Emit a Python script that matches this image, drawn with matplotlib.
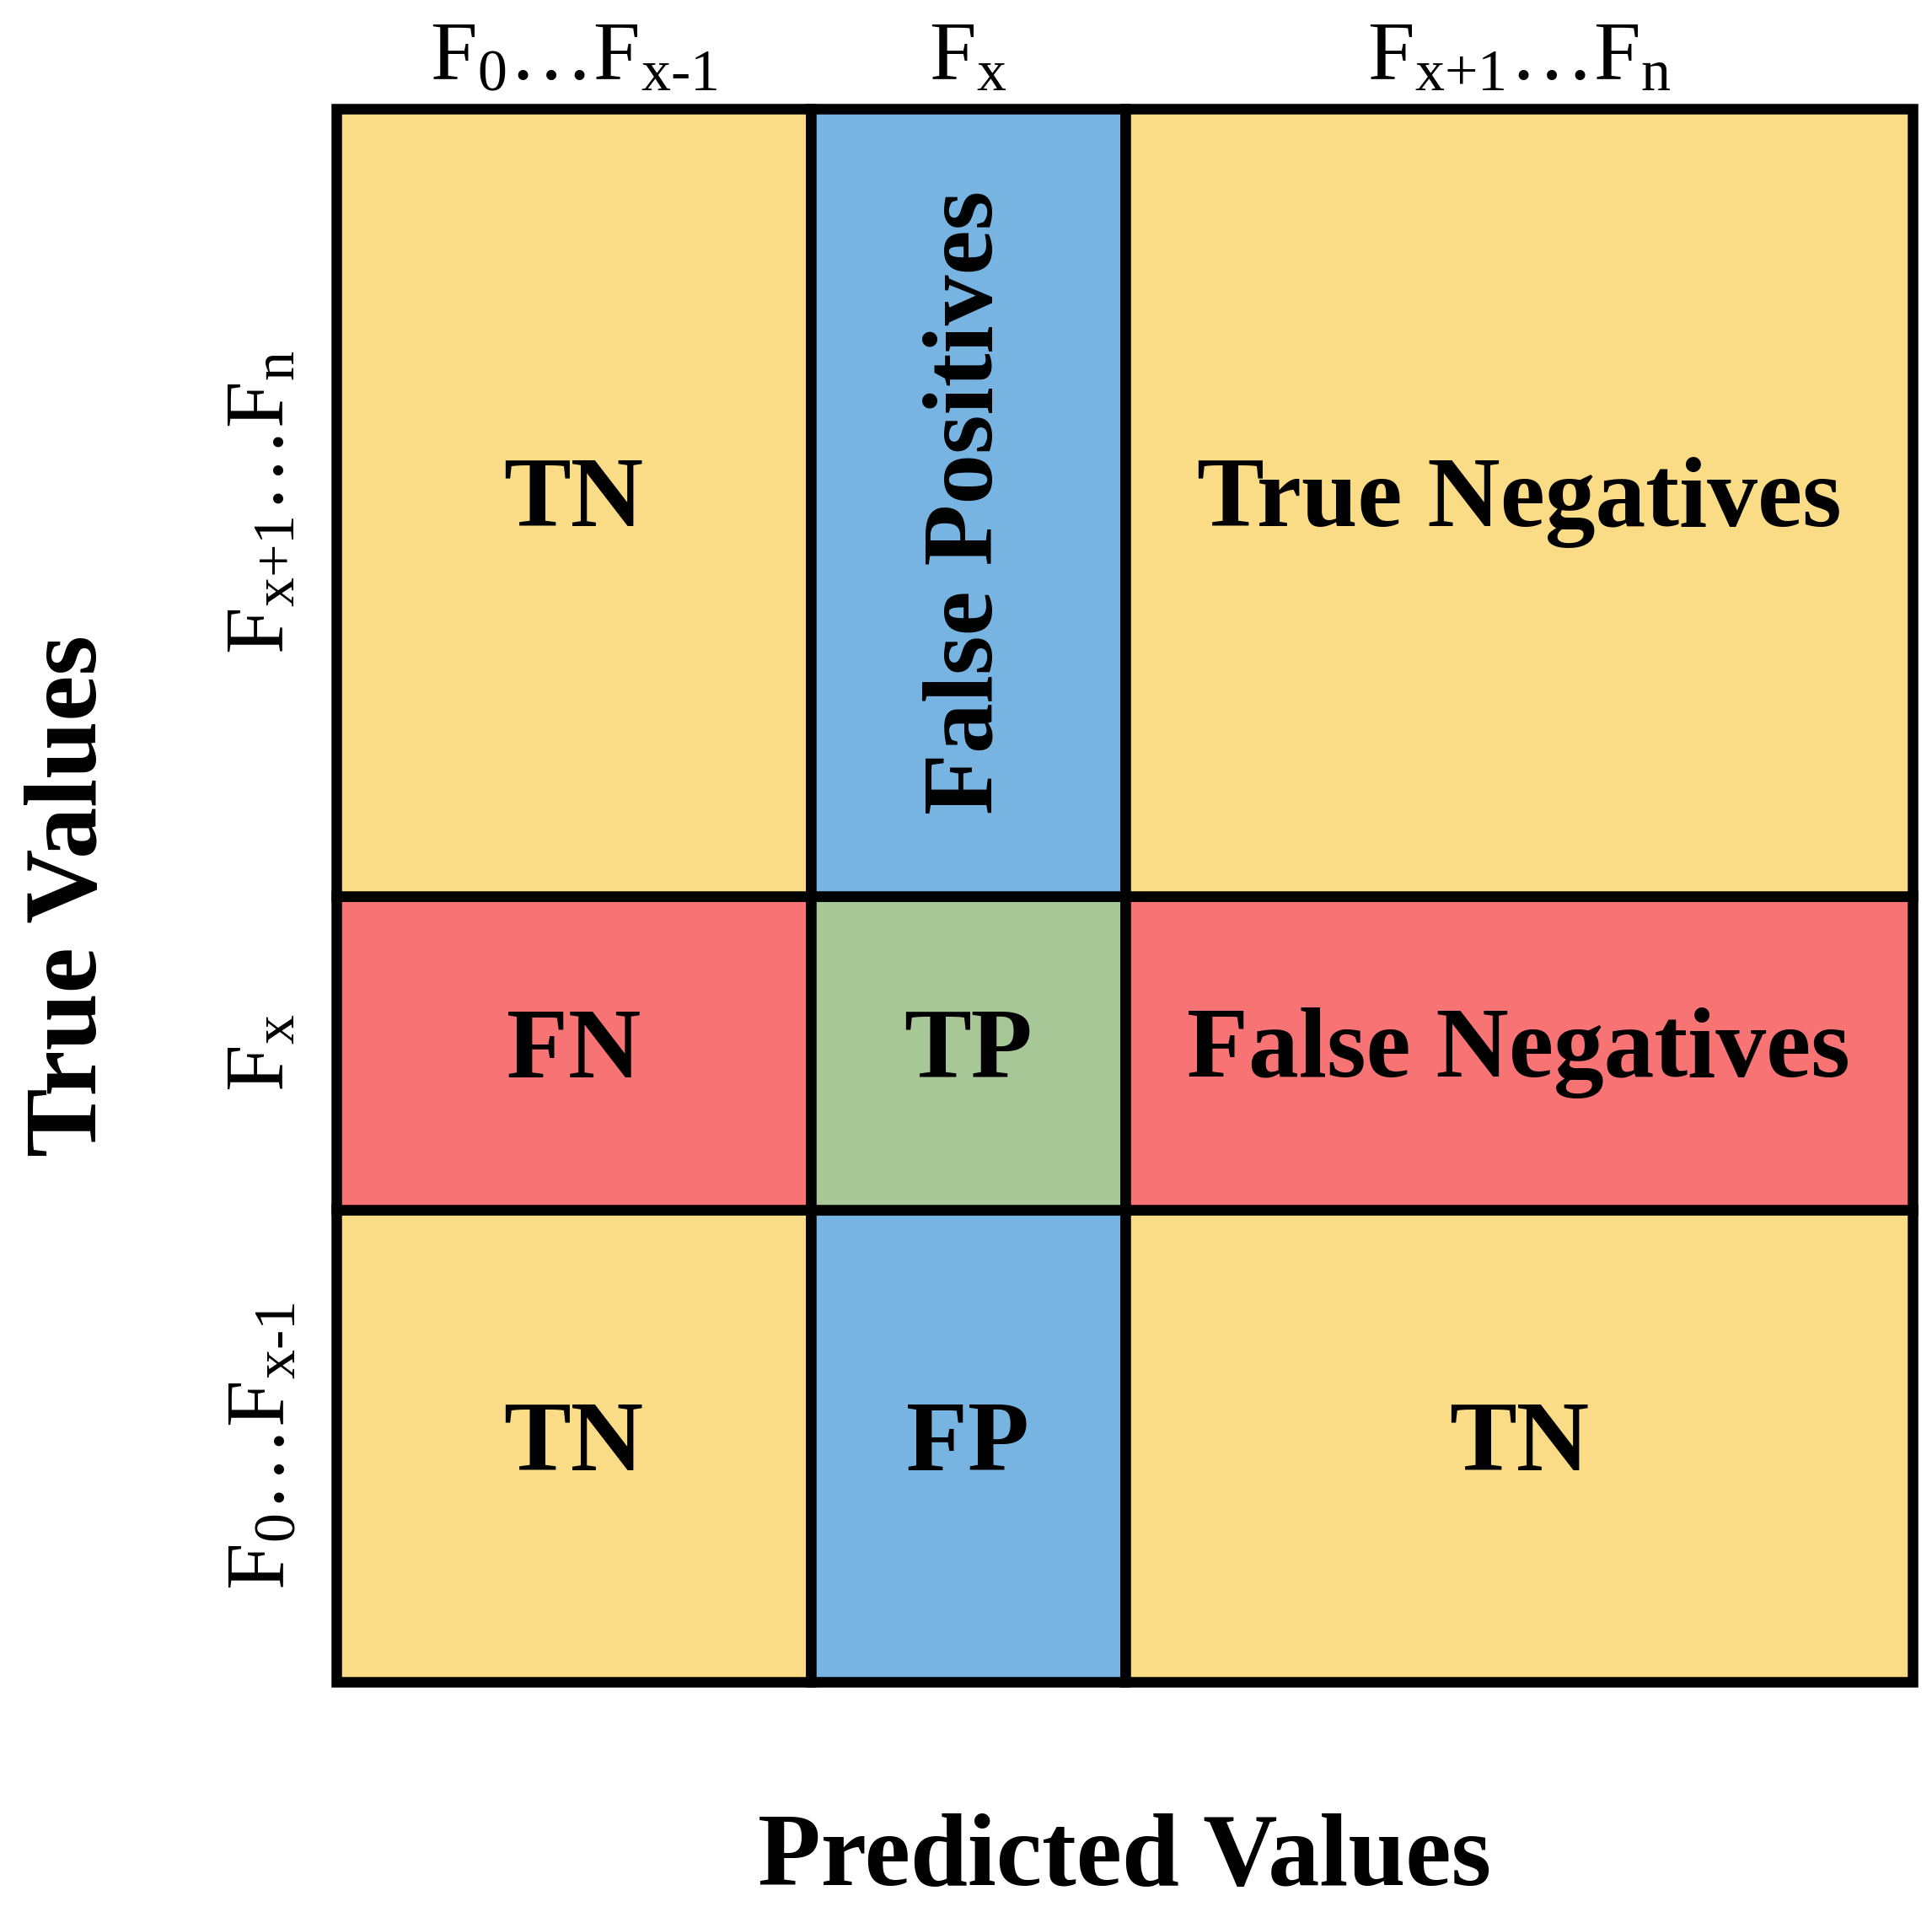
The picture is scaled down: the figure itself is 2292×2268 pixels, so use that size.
import numpy as np
import matplotlib.pyplot as plt
from matplotlib.patches import Rectangle

plt.rcParams['font.family'] = ['Liberation Serif', 'DejaVu Serif']
plt.rcParams['mathtext.fontset'] = 'custom'
plt.rcParams['mathtext.rm'] = 'Liberation Serif'
plt.rcParams['mathtext.it'] = 'Liberation Serif'

# 列宽 / 行高（相对单位，从左到右、从下到上）
col_widths = [385, 255, 639]
row_heights = [383, 255, 639]
col_labels = [r'F$_{\text{0}}$…F$_{\text{x-1}}$', r'F$_{\text{x}}$', r'F$_{\text{x+1}}$…F$_{\text{n}}$']
row_labels = [r'F$_{\text{0}}$…F$_{\text{x-1}}$', r'F$_{\text{x}}$', r'F$_{\text{x+1}}$…F$_{\text{n}}$']

# 单元格类别（行从下到上）
cell_kind = [['TN', 'FP', 'TN'],
             ['FN', 'TP', 'FN'],
             ['TN', 'FP', 'TN']]
cell_text = [['TN', 'FP', 'TN'],
             ['FN', 'TP', 'False Negatives'],
             ['TN', 'False Positives', 'True Negatives']]
colors = {'TN': '#FADC86', 'FP': '#77B4E1', 'FN': '#F87474', 'TP': '#A8C797'}

fig = plt.figure(figsize=(22.92, 22.68), dpi=100)
ax = fig.add_axes([399 / 2292, 1 - 1995 / 2268, 1870 / 2292, 1866 / 2268])

x_edges = np.concatenate([[0], np.cumsum(col_widths)])
y_edges = np.concatenate([[0], np.cumsum(row_heights)])

for i in range(3):
    for j in range(3):
        x0, y0 = x_edges[j], y_edges[i]
        w, h = col_widths[j], row_heights[i]
        ax.add_patch(Rectangle((x0, y0), w, h, facecolor=colors[cell_kind[i][j]],
                               edgecolor='black', linewidth=9, clip_on=False))
        rot = 90 if cell_text[i][j] == 'False Positives' else 0
        ax.text(x0 + w / 2, y0 + h / 2, cell_text[i][j], ha='center', va='center',
                fontsize=86, fontweight='bold', rotation=rot)

ax.set_xlim(x_edges[0], x_edges[-1])
ax.set_ylim(y_edges[0], y_edges[-1])
ax.set_xticks((x_edges[:-1] + x_edges[1:]) / 2)
ax.set_xticklabels(col_labels, fontsize=72)
ax.xaxis.tick_top()
ax.set_yticks((y_edges[:-1] + y_edges[1:]) / 2)
ax.set_yticklabels(row_labels, fontsize=72, rotation=90, va='center')
ax.tick_params(length=0, pad=30)
ax.tick_params(axis='x', pad=10)
for s in ax.spines.values():
    s.set_visible(False)

ax.set_xlabel('Predicted Values', fontsize=88, fontweight='bold', labelpad=112)
ax.set_ylabel('True Values', fontsize=88, fontweight='bold', labelpad=92)

fig.savefig('out.png', dpi=100)
